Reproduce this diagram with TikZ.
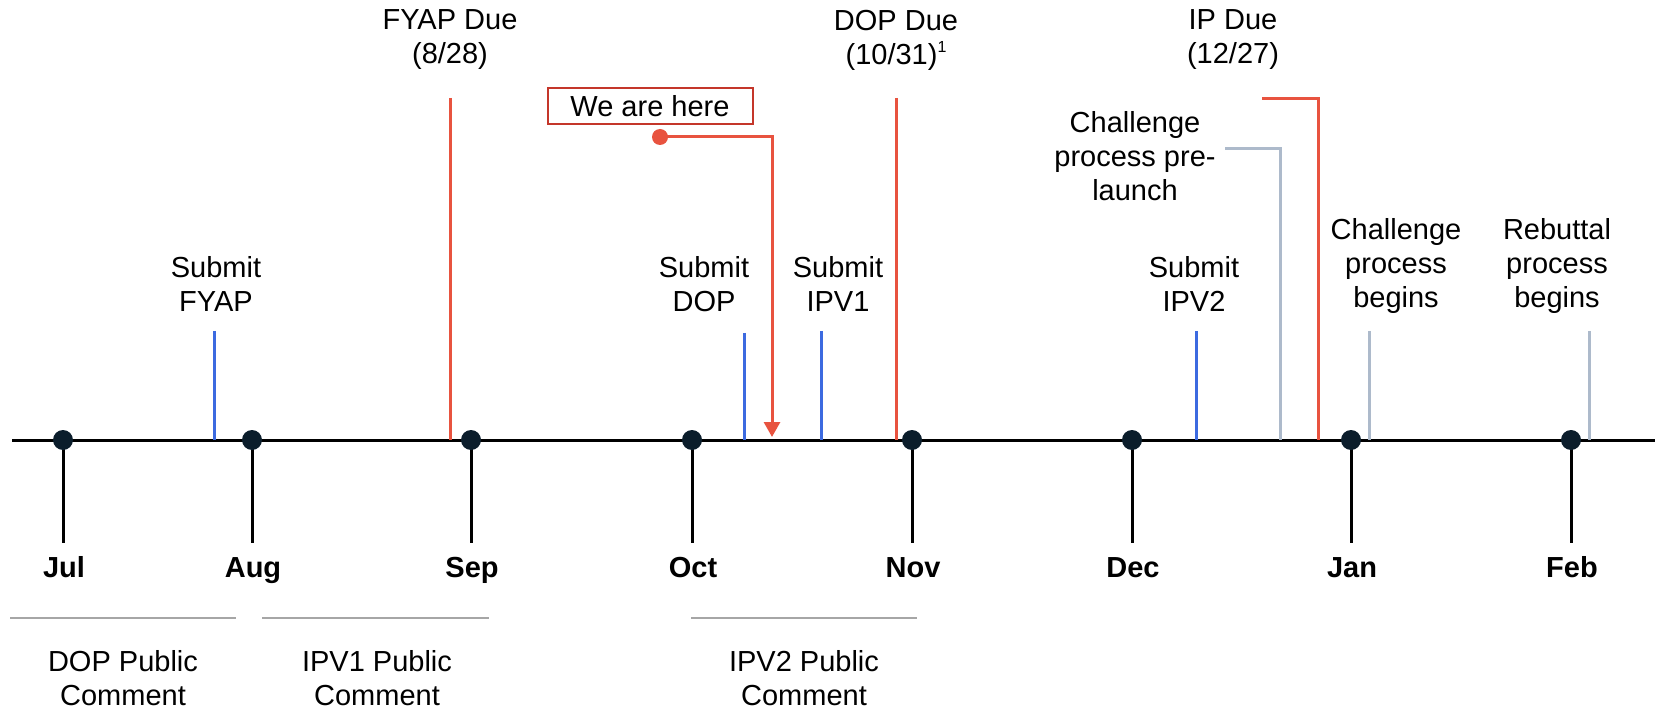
\documentclass[tikz,border=0pt]{standalone}
\usepackage{fontspec}
\setmainfont{Liberation Sans}
\usetikzlibrary{arrows.meta}
\definecolor{duered}{HTML}{E8533F}
\definecolor{boxred}{HTML}{C4362A}
\definecolor{subblue}{HTML}{3C6AE0}
\definecolor{procgray}{HTML}{ADBACB}
\definecolor{rulegray}{HTML}{A6A6A6}
\definecolor{dotnavy}{HTML}{0B1D2B}
\newcommand{\footmark}[1]{\raisebox{12pt}{\fontsize{16}{16}\selectfont #1}}
\begin{document}
\begin{tikzpicture}[x=1pt,y=-1pt,
  lbl/.style={font=\fontsize{29}{34}\selectfont, align=center, inner sep=0pt},
  month/.style={font=\fontsize{29}{34}\selectfont\bfseries, inner sep=0pt, anchor=base},
  axisline/.style={line width=3pt, black},
  stemline/.style={line width=3pt, black},
  dueline/.style={line width=3pt, duered},
  subline/.style={line width=3pt, subblue},
  procline/.style={line width=3pt, procgray},
  spanline/.style={line width=1.3pt, rulegray},
  mdot/.style={circle, fill=dotnavy, minimum size=20pt, inner sep=0pt},
  herebox/.style={draw=boxred, line width=2pt, minimum width=205pt, minimum height=36pt, inner sep=0pt, font=\fontsize{29}{34}\selectfont},
]
\useasboundingbox (0,0) rectangle (1655,711);

% axis
\coordinate (axL) at (12,440);
\coordinate (axR) at (1655,440);
\draw[axisline] (axL) -- (axR);

% month stems
\foreach \m/\x in {Jul/63, Aug/252, Sep/471, Oct/692, Nov/912, Dec/1132, Jan/1351, Feb/1571}{
  \coordinate (a\m) at (\x,440);
  \coordinate (s\m) at (\x,543);
  \draw[stemline] (a\m) -- (s\m);
}

% event lines
\coordinate (fyapTop) at (450,98);   \coordinate (fyapBase) at (450,440);
\coordinate (dopTop) at (896,98);    \coordinate (dopBase) at (896,440);
\coordinate (ipTop) at (1262,99);    \coordinate (ipBase) at (1318,440);
\draw[dueline] (fyapTop) -- (fyapBase);
\draw[dueline] (dopTop) -- (dopBase);
\draw[dueline] (ipTop) -| (ipBase);

\coordinate (sfTop) at (214,331);  \coordinate (sfBase) at (214,440);
\coordinate (sdTop) at (744,333);  \coordinate (sdBase) at (744,440);
\coordinate (s1Top) at (821,331);  \coordinate (s1Base) at (821,440);
\coordinate (s2Top) at (1196,331); \coordinate (s2Base) at (1196,440);
\draw[subline] (sfTop) -- (sfBase);
\draw[subline] (sdTop) -- (sdBase);
\draw[subline] (s1Top) -- (s1Base);
\draw[subline] (s2Top) -- (s2Base);

\coordinate (plTop) at (1225,149); \coordinate (plBase) at (1280,440);
\coordinate (cbTop) at (1369,331); \coordinate (cbBase) at (1369,440);
\coordinate (rbTop) at (1589,331); \coordinate (rbBase) at (1589,440);
\draw[procline] (plTop) -| (plBase);
\draw[procline] (cbTop) -- (cbBase);
\draw[procline] (rbTop) -- (rbBase);

% month dots and labels
\foreach \m/\x in {Jul/63, Aug/252, Sep/471, Oct/692, Nov/912, Dec/1132, Jan/1351, Feb/1571}{
  \node[mdot] (d\m) at (\x,440) {};
  \node[month] (l\m) at (\x+1,577) {\m};
}

% we are here
\node[herebox] (here) at (650,106) {We are here};
\node[circle, fill=duered, minimum size=16pt, inner sep=0pt] (hdot) at (660,137) {};
\coordinate (harrow) at (772,437);
\draw[line width=3pt, duered, -{Triangle[width=16pt,length=15pt]}] (hdot.center) -| (harrow);

% top labels
\node[lbl] (fyapDue) at (450,40) {FYAP Due\\(8/28)};
\node[lbl] (dopDue) at (896,40) {DOP Due\\(10/31)\footmark{1}};
\node[lbl] (ipDue) at (1233,40) {IP Due\\(12/27)};
\node[lbl] (prelaunch) at (1135,156) {Challenge\\process pre-\\launch};
\node[lbl] (subFyap) at (216,284) {Submit\\FYAP};
\node[lbl] (subDop) at (704,284) {Submit\\DOP};
\node[lbl] (subIpv1) at (838,284) {Submit\\IPV1};
\node[lbl] (subIpv2) at (1194,284) {Submit\\IPV2};
\node[lbl] (chBegins) at (1396,266) {Challenge\\process\\begins};
\node[lbl] (rbBegins) at (1557,266) {Rebuttal\\process\\begins};

% public comment spans
\coordinate (p1L) at (10,618);  \coordinate (p1R) at (236,618);
\coordinate (p2L) at (262,618); \coordinate (p2R) at (489,618);
\coordinate (p3L) at (691,618); \coordinate (p3R) at (917,618);
\draw[spanline] (p1L) -- (p1R);
\draw[spanline] (p2L) -- (p2R);
\draw[spanline] (p3L) -- (p3R);
\node[lbl] (pcDop) at (123,678) {DOP Public\\Comment};
\node[lbl] (pcIpv1) at (377,678) {IPV1 Public\\Comment};
\node[lbl] (pcIpv2) at (804,678) {IPV2 Public\\Comment};
\end{tikzpicture}
\end{document}
